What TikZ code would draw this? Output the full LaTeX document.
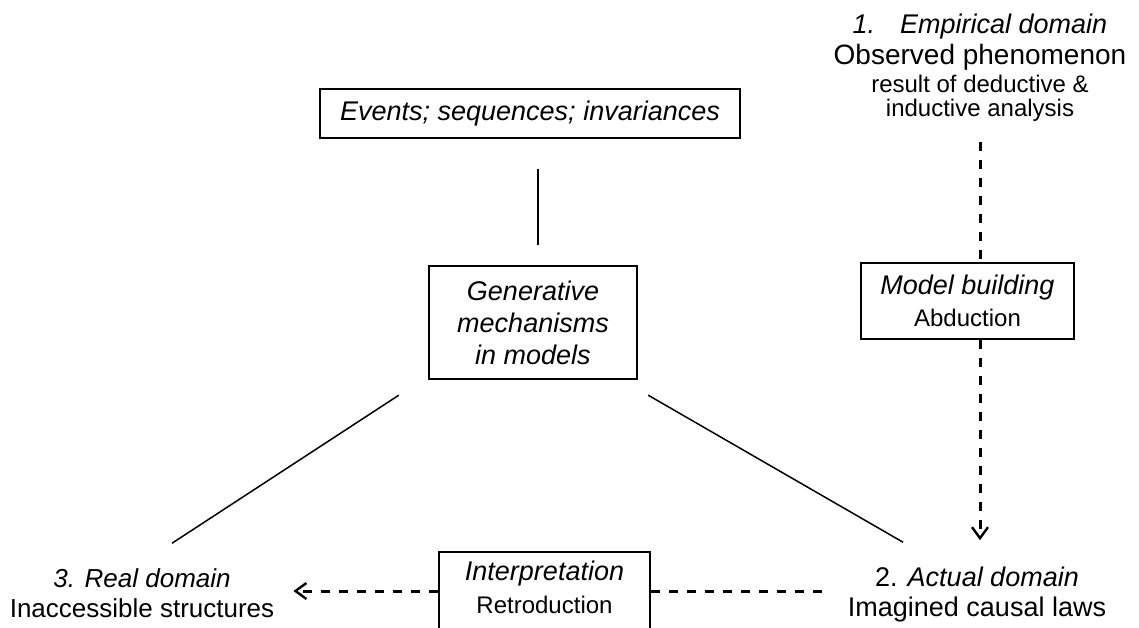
\documentclass[tikz,border=0pt]{standalone}
\usepackage{fontspec}
\setmainfont{Liberation Sans}
\usetikzlibrary{arrows.meta,calc}
\begin{document}
\begin{tikzpicture}[x=1pt,y=-1pt,
  txt/.style={align=center, inner sep=0pt, font=\fontsize{27}{30}\selectfont},
  thickbox/.style={draw, line width=2.4pt, inner sep=0pt, align=center},
  thinbox/.style={draw, line width=1.5pt, inner sep=0pt, align=center},
  solidline/.style={line width=1.5pt},
  dashline/.style={dash pattern=on 9pt off 9pt, line width=3pt},
  tip/.style={-{Straight Barb[length=11pt,width=16pt,line width=2.4pt]}}
]
\useasboundingbox (0,0) rectangle (1139,628);

% boxes
\node[thickbox, minimum width=420pt, minimum height=49pt,
      font=\fontsize{27}{30}\selectfont\itshape] (events) at (530,113.5)
      {Events; sequences; invariances};
\node[thickbox, minimum width=208pt, minimum height=113pt,
      font=\fontsize{27}{32}\selectfont\itshape] (gen) at (533,322.5)
      {Generative\\mechanisms\\in models};
\node[thinbox, minimum width=213pt, minimum height=76pt,
      font=\fontsize{27}{32}\selectfont] (model) at (967.5,301)
      {{\itshape Model building}\\{\fontsize{24}{28}\selectfont Abduction}};
\node[thinbox, minimum width=211pt, minimum height=84pt] (interp) at (544.5,594) {};
\node[txt, font=\fontsize{27}{33}\selectfont] (interptext) at (544.5,587)
      {{\itshape Interpretation}\\{\fontsize{24}{28}\selectfont Retroduction}};

% domain labels
\node[txt, font=\fontsize{27}{31}\selectfont] (emp) at (980,68)
      {{\itshape 1.\hspace{25pt}Empirical domain}\\
       {\fontsize{28}{31}\selectfont Observed phenomenon}\\[-3pt]
       {\fontsize{24}{28}\selectfont result of deductive \&}\\[-7pt]
       {\fontsize{24}{28}\selectfont inductive analysis}};
\node[txt] (actual) at (977,595) {2. {\itshape Actual domain}\\Imagined causal laws};
\node[txt, font=\fontsize{26}{30}\selectfont] (real) at (142,593) {{\itshape 3. Real domain}\\Inaccessible structures};

% connectors
\coordinate (vx) at (538,0);
\coordinate (ax) at (980,0);
\coordinate (hy) at (0,591);

\draw[solidline] ($(events.south -| vx)+(0,30)$) -- ($(gen.north -| vx)+(0,-20)$);
\draw[solidline] ($(gen.south west)+(-29,15)$) -- ($(real.north)+(30,-25)$);
\draw[solidline] ($(gen.south east)+(10,15)$) -- ($(actual.north)+(-74,-25)$);

\draw[dashline, shorten <=20pt] (emp.south -| ax) -- (model.north -| ax);
\draw[dashline, tip, shorten >=27pt] (model.south -| ax) -- (actual.north -| ax);
\draw[dashline, shorten >=25pt] (interp.east |- hy) -- (actual.west |- hy);
\draw[dashline, tip, shorten >=19pt] (interp.west |- hy) -- (real.east |- hy);
\end{tikzpicture}
\end{document}
